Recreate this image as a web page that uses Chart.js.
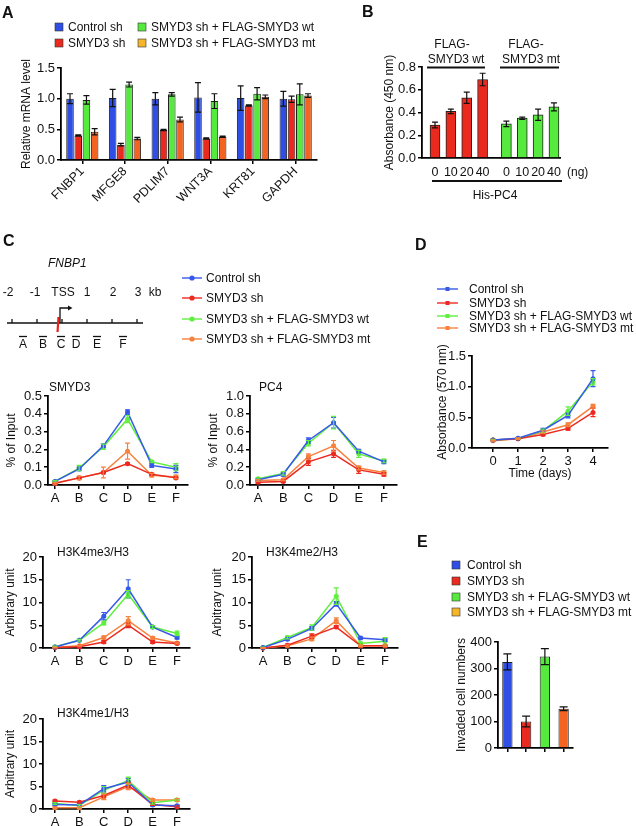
<!DOCTYPE html>
<html>
<head>
<meta charset="utf-8">
<script src="https://cdn.jsdelivr.net/npm/chart.js@4.4.1/dist/chart.umd.min.js"></script>
<style>
html, body { margin: 0; padding: 0; background: #fff; }
#page { position: relative; width: 636px; height: 826px; overflow: hidden; }
#overlay { position: absolute; left: 0; top: 0; }
#overlay text { font-family: Arial, "Liberation Sans", Helvetica, sans-serif; font-size: 12px; fill: #111; }
</style>
</head>
<body>
<div id="page"></div>
<script>
// ---- data ----
const groups = ['Control sh', 'SMYD3 sh', 'SMYD3 sh + FLAG-SMYD3 wt', 'SMYD3 sh + FLAG-SMYD3 mt'];
const barColors = ['#2f4fe4', '#ea2a1e', '#56ea3e', '#f2641f'];
const keyColors = ['#2f4fe4', '#ea2a1e', '#56ea3e', '#f5b62c'];
const lineColors = ['#3659ea', '#ec2a20', '#5ff03e', '#f6823e'];

// A: relative mRNA level
const genes = ['FNBP1', 'MFGE8', 'PDLIM7', 'WNT3A', 'KRT81', 'GAPDH'];
const mrnaMean = [
    [1.00, 1.01, 1.00, 1.02, 1.01, 1.00],
    [0.40, 0.25, 0.49, 0.35, 0.89, 0.99],
    [0.98, 1.23, 1.07, 0.96, 1.08, 1.07],
    [0.46, 0.35, 0.66, 0.38, 1.03, 1.05]
];
const mrnaErr = [
    [0.08, 0.14, 0.10, 0.24, 0.20, 0.12],
    [0.01, 0.02, 0.01, 0.01, 0.01, 0.05],
    [0.07, 0.04, 0.03, 0.12, 0.10, 0.17],
    [0.05, 0.02, 0.04, 0.01, 0.03, 0.03]
];

// B: absorbance vs FLAG-SMYD3 amount
const doses = ['0', '10', '20', '40'];
const absWt = [0.29, 0.41, 0.53, 0.69];
const absWtErr = [0.025, 0.02, 0.05, 0.055];
const absMt = [0.30, 0.35, 0.38, 0.45];
const absMtErr = [0.025, 0.01, 0.05, 0.035];

// C: ChIP at FNBP1 sites
const sites = ['A', 'B', 'C', 'D', 'E', 'F'];
const smyd3Mean = [
    [0.02, 0.09, 0.22, 0.41, 0.11, 0.09],
    [0.01, 0.04, 0.07, 0.12, 0.06, 0.04],
    [0.02, 0.095, 0.215, 0.37, 0.13, 0.10],
    [0.01, 0.04, 0.07, 0.19, 0.055, 0.045]
];
const smyd3Err = [
    [0.005, 0.01, 0.01, 0.012, 0.01, 0.02],
    [0.003, 0.003, 0.005, 0.005, 0.005, 0.005],
    [0.005, 0.015, 0.015, 0.02, 0.005, 0.02],
    [0.005, 0.01, 0.03, 0.045, 0.01, 0.01]
];
const pc4Mean = [
    [0.06, 0.12, 0.50, 0.70, 0.38, 0.26],
    [0.03, 0.04, 0.26, 0.35, 0.17, 0.12],
    [0.07, 0.13, 0.47, 0.70, 0.35, 0.27],
    [0.05, 0.06, 0.32, 0.44, 0.19, 0.14]
];
const pc4Err = [
    [0.01, 0.02, 0.03, 0.06, 0.02, 0.02],
    [0.01, 0.01, 0.04, 0.04, 0.04, 0.02],
    [0.01, 0.02, 0.03, 0.07, 0.04, 0.02],
    [0.01, 0.01, 0.03, 0.06, 0.02, 0.02]
];
const me3Mean = [
    [0.2, 1.7, 7.0, 13.0, 4.6, 2.3],
    [0.1, 0.3, 1.3, 5.0, 1.3, 1.0],
    [0.3, 1.7, 5.5, 11.8, 4.6, 3.2],
    [0.1, 0.5, 2.3, 6.0, 2.2, 1.1]
];
const me3Err = [
    [0.1, 0.2, 0.8, 2.0, 0.3, 0.3],
    [0.1, 0.1, 0.3, 0.5, 0.3, 0.2],
    [0.1, 0.2, 0.4, 0.8, 0.3, 0.5],
    [0.1, 0.1, 0.3, 0.9, 0.3, 0.2]
];
const me2Mean = [
    [0.1, 1.9, 4.3, 9.7, 2.2, 1.8],
    [0.0, 0.6, 2.6, 4.6, 0.5, 0.5],
    [0.1, 2.3, 4.5, 11.4, 1.0, 1.5],
    [0.0, 0.5, 2.0, 6.0, 0.5, 0.5]
];
const me2Err = [
    [0.1, 0.2, 0.4, 0.5, 0.2, 0.3],
    [0.1, 0.2, 0.5, 0.3, 0.2, 0.2],
    [0.1, 0.3, 0.6, 1.8, 0.3, 0.8],
    [0.1, 0.2, 0.4, 0.6, 0.2, 0.2]
];
const me1Mean = [
    [1.0, 0.9, 4.5, 6.0, 0.9, 0.7],
    [1.8, 1.5, 3.0, 5.3, 1.0, 0.5],
    [1.2, 0.8, 4.2, 6.3, 1.4, 2.0],
    [0.3, 0.3, 2.7, 5.0, 2.0, 2.0]
];
const me1Err = [
    [0.2, 0.2, 0.7, 0.8, 0.2, 0.2],
    [0.2, 0.2, 0.5, 0.6, 0.2, 0.2],
    [0.2, 0.2, 0.8, 0.8, 0.3, 0.3],
    [0.2, 0.2, 0.6, 0.7, 0.3, 0.3]
];

// D: growth
const days = [0, 1, 2, 3, 4];
const growthMean = [
    [0.13, 0.16, 0.29, 0.53, 1.13],
    [0.13, 0.15, 0.22, 0.32, 0.58],
    [0.13, 0.15, 0.28, 0.60, 1.08],
    [0.12, 0.15, 0.26, 0.38, 0.68]
];
const growthErr = [
    [0.01, 0.01, 0.03, 0.04, 0.13],
    [0.01, 0.01, 0.02, 0.03, 0.07],
    [0.01, 0.01, 0.03, 0.07, 0.05],
    [0.01, 0.01, 0.02, 0.03, 0.03]
];

// E: invasion
const invaded = [325, 100, 345, 148];
const invadedErr = [30, 20, 30, 7];

// ---- setup ----
const FONT = 'Arial, "Liberation Sans", Helvetica, sans-serif';
Chart.defaults.font.family = FONT;
Chart.defaults.font.size = 12;
Chart.defaults.color = '#111';

const page = document.getElementById('page');

// error bars, drawn from each dataset's `errors`
const errorBars = {
    id: 'errorBars',
    afterDatasetsDraw(chart) {
        const ctx = chart.ctx;
        chart.data.datasets.forEach((ds, di) => {
            if (!ds.errors) return;
            const meta = chart.getDatasetMeta(di);
            const yScale = chart.scales[meta.yAxisID];
            const cap = ds.errorCap || 3;
            ctx.save();
            ctx.strokeStyle = ds.errorColor || '#111';
            ctx.lineWidth = ds.errorWidth || 1.2;
            meta.data.forEach((el, i) => {
                const raw = ds.data[i];
                const v = typeof raw === 'object' ? raw.y : raw;
                const e = ds.errors[i];
                if (!e) return;
                const y1 = yScale.getPixelForValue(v + e);
                const y2 = yScale.getPixelForValue(v - e);
                ctx.beginPath();
                ctx.moveTo(el.x, y1); ctx.lineTo(el.x, y2);
                ctx.moveTo(el.x - cap, y1); ctx.lineTo(el.x + cap, y1);
                ctx.moveTo(el.x - cap, y2); ctx.lineTo(el.x + cap, y2);
                ctx.stroke();
            });
            ctx.restore();
        });
    }
};

const axisBorder = { color: '#000', width: 1.8 };
const tickGrid = { drawOnChartArea: false, drawTicks: true, tickLength: 4, color: '#000', lineWidth: 1.5, offset: false };

function yAxis(min, max, step, digits) {
    return {
        type: 'linear', min, max, border: axisBorder, grid: tickGrid,
        ticks: { stepSize: step, autoSkip: false, padding: 2, color: '#111', font: { size: 13 }, callback: v => v.toFixed(digits) }
    };
}

function siteAxis(min, max) {
    return {
        type: 'linear', min, max, border: axisBorder, grid: tickGrid,
        afterBuildTicks: s => { s.ticks = sites.map((_, i) => ({ value: i })); },
        ticks: { autoSkip: false, maxRotation: 0, padding: 2, color: '#111', font: { size: 13 }, callback: v => sites[v] }
    };
}

// f: plot frame in page pixels (pl/pt/pr/pb), y title centre tx, height below axis xh
function makeChart(f, type, data, xScale, yScale) {
    const left = f.tx - 9, top = f.pt - 14, right = f.pr + 16, bottom = f.pb + f.xh;
    const box = document.createElement('div');
    box.style.cssText = `position:absolute;left:${left}px;top:${top}px;width:${right - left}px;height:${bottom - top}px;`;
    const canvas = document.createElement('canvas');
    box.appendChild(canvas);
    page.appendChild(box);
    xScale.afterFit = s => { s.height = f.xh; };
    yScale.afterFit = s => { s.width = f.pl - left; };
    yScale.title = { display: true, text: f.ytitle, color: '#111', font: { size: 12 }, padding: { top: f.tx - left - 7.2, bottom: 0 } };
    return new Chart(canvas, {
        type,
        data,
        options: {
            responsive: true,
            maintainAspectRatio: false,
            animation: false,
            layout: { padding: { left: 0, top: f.pt - top, right: right - f.pr, bottom: 0 } },
            plugins: { legend: { display: false }, tooltip: { enabled: false } },
            scales: { x: xScale, y: yScale }
        },
        plugins: [errorBars]
    });
}

function lineSets(means, errs, xs) {
    return means.map((m, g) => ({
        label: groups[g],
        data: m.map((v, i) => ({ x: xs ? xs[i] : i, y: v })),
        errors: errs[g],
        errorColor: lineColors[g],
        errorCap: 2.5,
        borderColor: lineColors[g],
        backgroundColor: lineColors[g],
        borderWidth: 1.5,
        pointRadius: 2.5,
        pointBorderWidth: 0,
        tension: 0,
        fill: false,
        clip: false
    }));
}

// ---- A ----
makeChart({ pl: 61, pt: 68, pr: 317, pb: 160, tx: 27, xh: 50, ytitle: 'Relative mRNA level' }, 'bar', {
    labels: genes,
    datasets: mrnaMean.map((m, g) => ({
        label: groups[g], data: m, errors: mrnaErr[g],
        backgroundColor: barColors[g], borderColor: '#222', borderWidth: 1,
        categoryPercentage: 0.77, barPercentage: 0.92
    }))
}, {
    type: 'category', offset: true, border: axisBorder, grid: tickGrid,
    ticks: { autoSkip: false, minRotation: 45, maxRotation: 45, padding: 0, color: '#111', font: { size: 12.5 } }
}, yAxis(0, 1.5, 0.5, 1));

// ---- B ----
const mtShift = doses.length + 0.5;
makeChart({ pl: 422, pt: 67, pr: 560, pb: 158, tx: 390, xh: 22, ytitle: 'Absorbance (450 nm)' }, 'bar', {
    datasets: [
        { label: 'FLAG-SMYD3 wt', data: absWt.map((v, i) => ({ x: i, y: v })), errors: absWtErr,
          backgroundColor: barColors[1], borderColor: '#222', borderWidth: 1, barThickness: 10, grouped: false },
        { label: 'FLAG-SMYD3 mt', data: absMt.map((v, i) => ({ x: i + mtShift, y: v })), errors: absMtErr,
          backgroundColor: barColors[2], borderColor: '#222', borderWidth: 1, barThickness: 10, grouped: false }
    ]
}, {
    type: 'linear', min: -0.82, max: 7.88, offset: false, border: axisBorder,
    grid: { drawOnChartArea: false, drawTicks: false, offset: false },
    afterBuildTicks: s => { s.ticks = doses.map((_, i) => ({ value: i })).concat(doses.map((_, i) => ({ value: i + mtShift }))); },
    ticks: { autoSkip: false, minRotation: 0, maxRotation: 0, padding: 7, color: '#111', font: { size: 12.5 }, callback: (v, i) => doses[i % doses.length] }
}, yAxis(0, 0.8, 0.2, 1));

// ---- C ----
makeChart({ pl: 48, pt: 396, pr: 188, pb: 485, tx: 12, xh: 22, ytitle: '% of Input' }, 'line',
    { datasets: lineSets(smyd3Mean, smyd3Err) }, siteAxis(-0.29, 5.5), yAxis(0, 0.5, 0.1, 1));
makeChart({ pl: 250, pt: 396, pr: 397, pb: 485, tx: 214, xh: 22, ytitle: '% of Input' }, 'line',
    { datasets: lineSets(pc4Mean, pc4Err) }, siteAxis(-0.32, 5.52), yAxis(0, 1.0, 0.2, 1));
makeChart({ pl: 43, pt: 557, pr: 190, pb: 648, tx: 11, xh: 22, ytitle: 'Arbitrary unit' }, 'line',
    { datasets: lineSets(me3Mean, me3Err) }, siteAxis(-0.49, 5.53), yAxis(0, 20, 5, 0));
makeChart({ pl: 252, pt: 557, pr: 398, pb: 648, tx: 218, xh: 22, ytitle: 'Arbitrary unit' }, 'line',
    { datasets: lineSets(me2Mean, me2Err) }, siteAxis(-0.45, 5.53), yAxis(0, 20, 5, 0));
makeChart({ pl: 43, pt: 719, pr: 190, pb: 809, tx: 11, xh: 17, ytitle: 'Arbitrary unit' }, 'line',
    { datasets: lineSets(me1Mean, me1Err) }, siteAxis(-0.49, 5.53), yAxis(0, 20, 5, 0));

// ---- D ----
makeChart({ pl: 472, pt: 356, pr: 608, pb: 448, tx: 443, xh: 33, ytitle: 'Absorbance (570 nm)' }, 'line',
    { datasets: lineSets(growthMean, growthErr, days) }, {
    type: 'linear', min: -0.84, max: 4.6, border: axisBorder, grid: tickGrid,
    afterBuildTicks: s => { s.ticks = days.map(d => ({ value: d })); },
    ticks: { autoSkip: false, maxRotation: 0, padding: 2, color: '#111', font: { size: 13 } },
    title: { display: true, text: 'Time (days)', color: '#111', font: { size: 12 }, padding: { top: 0, bottom: 0 } }
}, yAxis(0, 1.5, 0.5, 1));

// ---- E ----
makeChart({ pl: 498, pt: 642, pr: 573, pb: 748, tx: 462, xh: 14, ytitle: 'Invaded cell numbers' }, 'bar', {
    labels: groups,
    datasets: [{ data: invaded, errors: invadedErr, errorCap: 4,
        backgroundColor: barColors, borderColor: '#222', borderWidth: 1,
        barPercentage: 0.55, categoryPercentage: 1 }]
}, {
    type: 'category', offset: true, border: axisBorder, grid: tickGrid,
    ticks: { autoSkip: false, callback: () => '' }
}, yAxis(0, 400, 100, 0));

// ---- annotations: letters, legends, titles, FNBP1 map ----
const T = (x, y, s, extra = '') => `<text x="${x}" y="${y}" dominant-baseline="central" ${extra}>${s}</text>`;
const L = (x1, y1, x2, y2, c = '#111', w = 1.5) => `<line x1="${x1}" y1="${y1}" x2="${x2}" y2="${y2}" stroke="${c}" stroke-width="${w}"/>`;
let svg = '';

// panel letters
[['A', 2, 12], ['B', 362, 11], ['C', 3, 240], ['D', 415, 244], ['E', 417, 541]].forEach(([s, x, y]) => {
    svg += T(x, y, s, 'style="font-size:16px;font-weight:bold"');
});

// A legend (two columns)
const aKeyPos = [[55, 27], [55, 43], [138, 27], [138, 43]];
groups.forEach((g, i) => {
    const [x, y] = aKeyPos[i];
    svg += `<rect x="${x}" y="${y - 4}" width="8" height="8" fill="${keyColors[i]}" stroke="#333" stroke-width="0.6"/>`;
    svg += T(x + 13, y, g);
});

// B annotations
svg += T(452, 44, 'FLAG-', 'text-anchor="middle"') + T(456, 59, 'SMYD3 wt', 'text-anchor="middle"') + L(427, 67.5, 485, 67.5, '#111', 2);
svg += T(526, 44, 'FLAG-', 'text-anchor="middle"') + T(531, 59, 'SMYD3 mt', 'text-anchor="middle"') + L(500, 67.5, 559, 67.5, '#111', 2);
svg += T(567, 172, '(ng)');
svg += L(432, 181, 562, 181, '#111', 2) + T(495, 195, 'His-PC4', 'text-anchor="middle"');

// C gene map
svg += T(48, 263, 'FNBP1', 'style="font-style:italic"');
[['-2', 8], ['-1', 35], ['TSS', 63], ['1', 87], ['2', 113], ['3', 138], ['kb', 155]].forEach(([s, x]) => {
    svg += T(x, 292, s, 'text-anchor="middle"');
});
svg += L(7, 323, 143, 323, '#111', 1.6);
[12, 37, 62, 87, 112, 137].forEach(x => { svg += L(x, 319, x, 323, '#111', 1.3); });
svg += L(58.5, 317, 57.5, 332, '#e8231c', 2.2);
svg += `<path d="M60,323 V308 H69" fill="none" stroke="#111" stroke-width="1.3"/><path d="M68,305.5 L72.5,308 L68,310.5 Z" fill="#111"/>`;
[['A', 23], ['B', 43], ['C', 61], ['D', 76], ['E', 97], ['F', 123]].forEach(([s, x]) => {
    svg += L(x - 4, 336.5, x + 4, 336.5, '#111', 1.3) + T(x, 344, s, 'text-anchor="middle"');
});

// C legend
[278, 298, 319, 339].forEach((y, i) => {
    svg += L(182, y, 202, y, lineColors[i], 1.4) + `<circle cx="192" cy="${y}" r="2.6" fill="${lineColors[i]}"/>` + T(206, y, groups[i]);
});

// C chart titles
[['SMYD3', 49, 387], ['PC4', 259, 387], ['H3K4me3/H3', 57, 552], ['H3K4me2/H3', 266, 552], ['H3K4me1/H3', 57, 713]].forEach(([s, x, y]) => {
    svg += T(x, y, s);
});

// D legend
[289, 303, 316, 328].forEach((y, i) => {
    svg += L(437, y, 458, y, lineColors[i], 1.4) + `<rect x="${445.5}" y="${y - 2}" width="4" height="4" fill="${lineColors[i]}"/>` + T(469, y, groups[i]);
});

// E legend
[565, 581, 597, 612].forEach((y, i) => {
    svg += `<rect x="452" y="${y - 4}" width="8" height="8" fill="${keyColors[i]}" stroke="#333" stroke-width="0.6"/>` + T(467, y, groups[i]);
});

const ns = 'http://www.w3.org/2000/svg';
const over = document.createElementNS(ns, 'svg');
over.setAttribute('id', 'overlay');
over.setAttribute('width', '636');
over.setAttribute('height', '826');
over.innerHTML = svg;
page.appendChild(over);
</script>
</body>
</html>
